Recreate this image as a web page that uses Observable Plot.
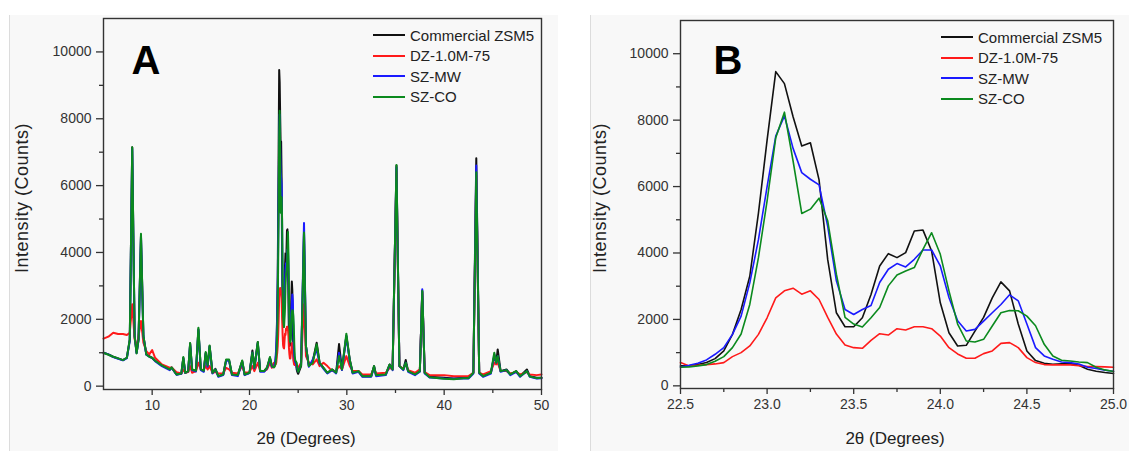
<!DOCTYPE html>
<html><head><meta charset="utf-8">
<script src="https://cdn.jsdelivr.net/npm/d3@7"></script>
<script src="https://cdn.jsdelivr.net/npm/@observablehq/plot@0.6"></script>
<style>
body{margin:0;background:#fff;width:1129px;height:451px;overflow:hidden;position:relative;font-family:"Liberation Sans",Arial,sans-serif;}
.bg{position:absolute;top:15px;height:436px;background:#f8f8f8;border-left:1px solid #dcdcdc;}
.panel{position:absolute;top:0;}
.legend{position:absolute;font-size:15px;color:#222;line-height:1;}
.legend div{display:flex;align-items:center;height:20.5px;white-space:nowrap;}
.legend span.l{display:inline-block;width:32px;height:0;border-top:2px solid;margin-right:5px;}
.title{position:absolute;white-space:nowrap;color:#222;font-size:17px;line-height:1;}
.ytitle{font-size:18px;letter-spacing:0.5px;transform:translate(-50%,-50%) rotate(-90deg);}
.xtitle{transform:translate(-50%,-50%);}
</style></head><body>
<div class="bg" style="left:9px;width:548px"></div>
<div class="bg" style="left:590px;width:539px"></div>
<div id="a" class="panel" style="left:0"></div>
<div id="b" class="panel" style="left:560px"></div>
<div id="legA" class="legend" style="left:373px;top:25px"></div>
<div id="legB" class="legend" style="left:941px;top:27px"></div>
<div class="title ytitle" style="left:22px;top:198px">Intensity (Counts)</div>
<div class="title ytitle" style="left:600px;top:198px">Intensity (Counts)</div>
<div class="title xtitle" style="left:306px;top:438px">2θ (Degrees)</div>
<div class="title xtitle" style="left:895px;top:438px">2θ (Degrees)</div>
<script>
// ---- series ----
const seriesNames = ["Commercial ZSM5", "DZ-1.0M-75", "SZ-MW", "SZ-CO"];
const seriesColors = ["#111111", "#ff1a1a", "#1a1aff", "#0b8a1e"];

// ---- panel A: 5–22.3 degrees ----
const aLowTheta = [5.0,5.5,6.0,6.5,7.0,7.4,7.7,7.95,8.2,8.4,8.6,8.85,9.1,9.4,9.7,10.0,10.3,11.0,11.8,12.0,12.5,13.0,13.2,13.4,13.7,13.9,14.1,14.5,14.75,15.0,15.3,15.5,15.7,15.9,16.2,16.5,16.8,17.3,17.6,17.9,18.2,18.8,19.25,19.5,20.0,20.3,20.5,20.85,21.1,21.5,21.8,22.1,22.3];
const aLowCommercial = [1000,950,880,830,780,850,1400,7150,1500,1000,1400,4500,1500,950,900,850,760,620,500,560,350,380,850,400,450,1280,500,450,1700,500,450,1000,600,1200,400,520,300,350,780,780,350,330,750,350,400,1070,550,1320,450,450,550,850,600];
const aLowDZ = [1420,1480,1600,1560,1560,1530,1600,2450,1400,1150,1500,1950,1300,1050,950,1080,850,650,550,560,420,380,500,400,420,600,400,450,700,500,480,600,500,600,400,420,380,380,550,500,400,380,600,400,420,600,450,700,450,450,500,700,550];
const aLowSZMW = [1000,950,870,820,770,840,1350,7100,1480,990,1380,4480,1480,940,880,840,750,600,480,550,340,370,830,400,440,1250,480,440,1680,480,430,980,580,1180,380,500,280,330,760,760,330,300,730,330,390,1000,530,1280,430,430,530,830,580];
const aLowSZCO = [1000,940,880,830,780,850,1400,7150,1500,980,1400,4560,1500,950,880,850,760,620,500,560,350,380,870,400,450,1290,500,460,1750,500,460,1020,620,1220,400,500,300,350,800,800,350,330,770,350,400,1000,550,1320,450,450,550,870,600];

// ---- panel A: 25.3–50 degrees ----
const aHighTheta = [25.3,25.6,25.8,26.1,26.5,26.9,27.2,27.6,28.0,28.5,28.9,29.2,29.5,29.95,30.3,30.6,31.2,31.6,32.5,32.8,33.0,34.0,34.4,34.7,35.1,35.4,35.8,36.05,36.3,37.0,37.5,37.75,38.0,38.5,40.0,41.0,42.0,42.5,43.0,43.3,43.6,44.0,44.8,45.15,45.35,45.5,45.8,46.4,46.8,47.4,47.8,48.5,48.8,49.5,50.0];
const aHighCommercial = [600,4600,1200,600,750,1300,700,550,400,500,400,1260,500,1500,800,400,450,300,300,600,330,350,650,500,6600,600,500,780,450,350,450,2850,400,280,250,230,250,250,400,6820,400,300,400,900,700,1100,450,500,350,450,300,500,300,250,250];
const aHighDZ = [700,2450,900,700,650,800,600,700,600,450,450,600,500,900,600,450,450,350,350,550,380,400,550,500,6400,600,520,650,480,400,500,2800,420,330,330,300,300,300,400,6300,400,350,450,700,650,700,450,450,380,420,350,420,350,330,350];
const aHighSZMW = [650,4880,1200,580,800,1100,680,520,380,480,380,1000,480,1500,750,380,430,280,280,580,300,330,630,480,6550,600,480,700,430,330,430,2900,380,260,230,220,230,230,380,6600,380,280,380,950,700,900,430,480,330,430,280,450,280,230,240];
const aHighSZCO = [620,4600,1200,600,700,1250,700,550,400,500,400,900,500,1570,780,400,450,300,300,600,330,350,650,500,6620,600,500,700,450,350,450,2850,400,270,220,210,240,240,400,6400,400,300,400,1000,700,900,450,480,350,450,300,450,290,240,250];

// ---- panel B: 22.5–25 degrees (also the middle of panel A) ----
const bTheta = [22.50,22.55,22.60,22.65,22.70,22.75,22.80,22.85,22.90,22.95,23.00,23.05,23.10,23.15,23.20,23.25,23.30,23.35,23.40,23.45,23.50,23.55,23.60,23.65,23.70,23.75,23.80,23.85,23.90,23.95,24.00,24.05,24.10,24.15,24.20,24.25,24.30,24.35,24.40,24.45,24.50,24.55,24.60,24.65,24.70,24.75,24.80,24.85,24.90,24.95,25.00];
const bCommercial = [600,600,640,700,820,1050,1550,2300,3300,5200,7400,9460,9100,8100,7220,7320,6200,3800,2200,1780,1780,2050,2750,3610,3980,3860,4010,4660,4690,4060,2500,1600,1200,1220,1650,2060,2650,3130,2860,1860,1050,760,680,650,660,670,620,500,440,400,370];
const bDZ = [700,600,620,640,660,700,880,1000,1200,1550,2050,2650,2860,2940,2760,2860,2600,2060,1560,1230,1150,1130,1370,1570,1530,1720,1680,1780,1780,1720,1500,1150,960,830,830,970,1050,1280,1300,1150,850,700,640,630,630,630,610,580,580,570,560];
const bSZMW = [570,620,680,780,950,1150,1550,2100,3100,4400,6000,7520,8130,7150,6420,6220,6050,4800,3160,2300,2150,2300,2420,3110,3510,3680,3580,3810,4090,4090,3610,2660,1960,1650,1700,1950,2200,2450,2740,2560,1860,1150,900,800,720,700,660,560,520,470,440];
const bSZCO = [560,570,600,640,740,880,1150,1560,2450,3860,5570,7470,8240,6770,5190,5320,5650,4970,3360,2060,1860,1770,2050,2360,3010,3340,3460,3560,4110,4610,3960,2860,1860,1350,1320,1400,1800,2200,2270,2260,2100,1810,1250,900,770,750,720,700,560,480,430];

// ---- ticks ----
const aXTicks = [10, 20, 30, 40, 50];
const aXMinor = [15, 25, 35, 45];
const yTicks = [0, 2000, 4000, 6000, 8000, 10000];
const yMinor = [1000, 3000, 5000, 7000, 9000];
const bXTicks = [22.5, 23.0, 23.5, 24.0, 24.5, 25.0];
const bXMinor = [22.75, 23.25, 23.75, 24.25, 24.75];

function toRows(theta, lists) {
  const out = [];
  lists.forEach((ys, k) => theta.forEach((t, i) => out.push({x: t, y: ys[i], s: seriesNames[k]})));
  return out;
}
const bLists = [bCommercial, bDZ, bSZMW, bSZCO];
const aLists = [
  aLowCommercial.concat(bCommercial, aHighCommercial),
  aLowDZ.concat(bDZ, aHighDZ),
  aLowSZMW.concat(bSZMW, aHighSZMW),
  aLowSZCO.concat(bSZCO, aHighSZCO)
];
const aTheta = aLowTheta.concat(bTheta, aHighTheta);
const dataA = toRows(aTheta, aLists);
const dataB = toRows(bTheta, bLists);

const font = '"Liberation Sans", Arial, sans-serif';
function panel(opts) {
  return Plot.plot({
    width: opts.width, height: 451,
    marginLeft: opts.ml, marginRight: opts.mr, marginTop: opts.mt, marginBottom: opts.mb,
    style: {background: "transparent", fontFamily: font, fontSize: "14px", color: "#333", overflow: "visible"},
    x: {domain: opts.xDomain, label: null},
    y: {domain: opts.yDomain, label: null},
    color: {domain: seriesNames, range: seriesColors},
    marks: [
      Plot.line(opts.data, {x: "x", y: "y", z: "s", stroke: "s", strokeWidth: opts.sw, strokeLinejoin: "round"}),
      Plot.frame({stroke: "#333", strokeWidth: 1.4}),
      Plot.axisX({ticks: opts.xTicks, tickSize: 6, tickPadding: 5, tickFormat: opts.xFmt, label: null, stroke: "#333", strokeWidth: 1.3, fill: "#333"}),
      Plot.axisX({ticks: opts.xMinor, tickSize: 4, text: null, label: null, stroke: "#333", strokeWidth: 1.3}),
      Plot.axisY({ticks: yTicks, tickSize: 7, tickPadding: 5, tickFormat: d => String(d), label: null, stroke: "#333", strokeWidth: 1.3, fill: "#333"}),
      Plot.axisY({ticks: yMinor, tickSize: 4, text: null, label: null, stroke: "#333", strokeWidth: 1.3}),
      Plot.text([opts.tag], {frameAnchor: "top-left", dx: opts.tagDx, dy: opts.tagDy, fontSize: 40, fontWeight: "bold", textAnchor: "start", lineAnchor: "top", fill: "#000"})
    ]
  });
}

document.getElementById("a").append(panel({
  width: 560, ml: 103, mr: 19, mt: 18, mb: 62, data: dataA, sw: 2,
  xDomain: [5, 50], yDomain: [-100, 11000], xTicks: aXTicks, xMinor: aXMinor, xFmt: d => String(d),
  tag: "A", tagDx: 28, tagDy: 27
}));
document.getElementById("b").append(panel({
  width: 569, ml: 120, mr: 16, mt: 20, mb: 63, data: dataB, sw: 1.6,
  xDomain: [22.5, 25.0], yDomain: [-80, 11000], xTicks: bXTicks, xMinor: bXMinor, xFmt: d => d.toFixed(1),
  tag: "B", tagDx: 33, tagDy: 25
}));

function legend(id) {
  const el = document.getElementById(id);
  seriesNames.forEach((n, i) => {
    const row = document.createElement("div");
    const ln = document.createElement("span");
    ln.className = "l"; ln.style.borderTopColor = seriesColors[i];
    row.append(ln, document.createTextNode(n));
    el.append(row);
  });
}
legend("legA"); legend("legB");
</script>
</body></html>
